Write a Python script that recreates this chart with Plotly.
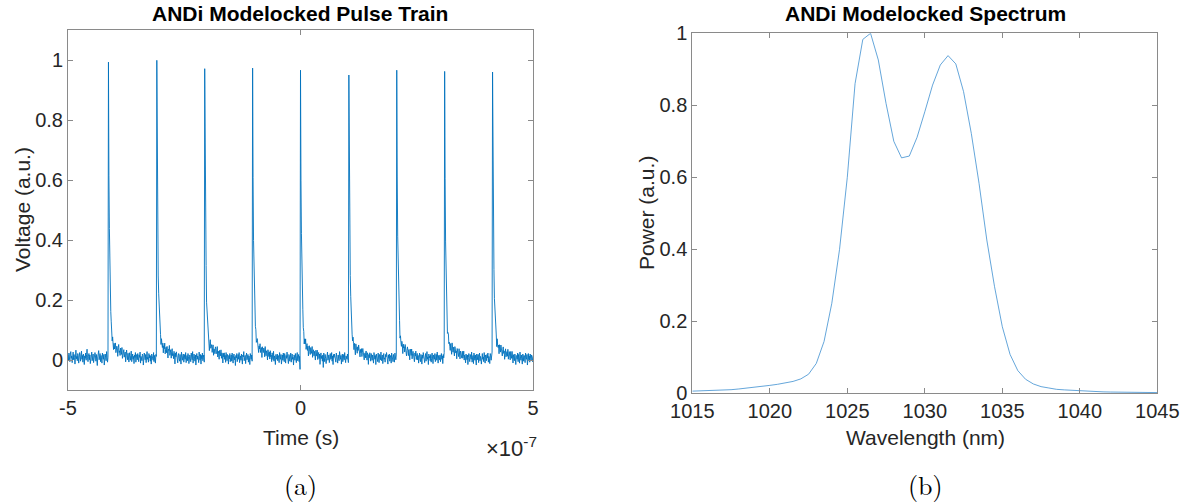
import numpy as np
import plotly.graph_objects as go

# ---------------- data: (a) pulse train, time in units of 1e-7 s ----------------
pulse_times_e7 = [-4.125, -3.093, -2.060, -1.028, 0.004, 1.037, 2.069, 3.101, 4.134]
pulse_peaks = [0.993, 0.999, 0.971, 0.973, 0.966, 0.950, 0.966, 0.962, 0.960]
# decay of one pulse after its peak, fraction of peak, one value per 1 ns sample
pulse_decay = [1.0, 0.62, 0.42, 0.30, 0.21, 0.15, 0.11, 0.085, 0.068, 0.056,
               0.048, 0.044, 0.041, 0.038, 0.036, 0.034, 0.032, 0.030, 0.028, 0.027,
               0.026, 0.025, 0.024, 0.023, 0.022, 0.021, 0.020, 0.019, 0.018, 0.017,
               0.016, 0.015, 0.014, 0.013, 0.012, 0.011, 0.010, 0.009, 0.008, 0.007,
               0.006, 0.005, 0.004, 0.003, 0.002, 0.001]
baseline_offset = 0.004
noise_unit = 0.0016  # a.u. per count of the list below
# baseline noise (counts), one value per 1 ns sample from -5e-7 to 5e-7 s
noise_counts = [
    8, -3, 12, 2, -6, 10, 15, 1, 6, -8, 4, 14, -2, 9, 3, -11, 7, 18, 0, 5, -4, 11, 6, -9, 2, 13, 8, -5, 3, 16, -1, 7, -7, 10, 4, -12, 6, 1, 12, -3, 9, 20, 2, -6, 5, 11, -2, 8, -10, 3,
    7, 14, -4, 2, 10, -8, 5, 0, 13, 6, -5, 9, 1, -14, 4, 8, 17, -2, 3, 11, -6, 7, 2, -9, 12, 4, -1, 9, -13, 5, 10, 2, -4, 15, 6, -7, 3, 8, -2, 12, 0, -10, 6, 9, 3, -5, 11, 1, -8, 7,
    -3, 6, 12, -7, 1, 9, 4, -11, 8, 15, -1, 3, -6, 10, 5, -2, 13, -9, 2, 7, 11, -4, 0, 8, -12, 6, 14, 3, -5, 9, 1, -8, 12, 4, -3, 7, 16, -6, 2, 10, -1, 5, -10, 8, 3, 13, -7, 4, 9, -2,
    11, 0, -6, 8, 3, 14, -9, 5, 2, -4, 10, 7, -13, 1, 12, 6, -2, 9, -8, 4, 15, -1, 3, -7, 11, 2, 8, -5, 6, -11, 10, 1, 4, -3, 13, -6, 7, 0, -9, 9, 5, 12, -4, 2, -14, 6, 10, -1, 3, 8,
    -5, 12, 4, -2, 9, -10, 6, 1, 14, -7, 3, 8, -3, 11, 0, -12, 7, 5, 16, -4, 2, 9, -8, 6, 13, -1, 4, -6, 10, 3, -15, 8, 1, 12, -2, 5, -9, 7, 11, 0, -5, 9, 3, -11, 14, 2, -3, 6, 10, -7,
    4, 9, -1, 13, -8, 2, 7, -4, 11, 5, -10, 3, 8, 0, -6, 12, 6, -2, 15, -9, 1, 10, 4, -5, 8, -13, 3, 11, -1, 6, 2, -8, 14, 5, -3, 9, -11, 7, 0, 12, -4, 3, 8, -7, 10, 1, -2, 13, -9, 5,
    7, -3, 10, 2, -12, 6, 15, -1, 4, 9, -6, 1, 12, -9, 5, 3, -4, 11, 8, -2, 0, 14, -7, 6, 2, -10, 9, 4, -1, 12, -5, 7, 3, -13, 8, 1, 10, -3, 6, -8, 13, 2, -4, 9, 5, -11, 7, 0, 11, -6,
    3, 8, -5, 12, 1, -9, 6, 10, -2, 4, -14, 7, 2, 11, -6, 5, 9, -1, 13, -8, 3, 6, -3, 10, 0, -11, 8, 4, 15, -4, 2, 7, -10, 5, 12, -2, 1, 9, -7, 6, 3, -12, 11, 4, -1, 8, -5, 14, 2, -8,
    6, 11, -3, 1, 9, -7, 4, 13, -2, 8, -10, 5, 0, 12, -5, 3, 7, -13, 10, 2, -1, 9, 6, -8, 14, 1, -4, 7, 3, -11, 11, 5, -2, 8, -6, 12, 0, 4, -9, 10, 2, -3, 15, -5, 6, 1, -12, 9, 3, -1,
    10, -4, 7, 2, -8, 13, 5, -1, 9, -11, 4, 8, -3, 12, 0, -6, 11, 3, -9, 7, 1, 14, -2, 5, -10, 9, 6, -5, 2, 12, -7, 4, 10, -1, 3, -13, 8, 6, -3, 11, 1, -8, 7, 13, -4, 2, 9, -6, 5, -22,
    4, -2, 9, -7, 3, 12, -1, 6, -10, 8, 2, 15, -5, 1, 10, -3, 7, -12, 5, 11, 0, -6, 9, 4, -2, 13, -9, 3, 8, -4, 6, 1, -11, 10, 5, -1, 12, -7, 2, 9, -3, 7, -14, 4, 11, 0, 6, -5, 8, -18,
    12, 3, -6, 9, 1, -10, 7, 4, 14, -3, 2, 8, -8, 5, 11, -1, 0, 13, -5, 6, -12, 9, 3, 10, -2, 4, -7, 12, 1, 6, -9, 8, 2, -4, 15, 5, -1, 7, -11, 3, 10, -6, 4, 9, -2, 13, 0, -8, 6, 2,
    -1, 10, 5, -8, 7, 2, 13, -4, 6, -11, 9, 1, -3, 12, 4, -7, 8, 3, -13, 11, 0, 6, -5, 9, 2, 14, -2, 5, -9, 7, 1, 10, -6, 3, 12, -1, 8, -10, 4, 6, -4, 11, 2, -7, 9, 5, -14, 7, 1, 12,
    2, -5, 11, 6, -3, 8, 0, -9, 13, 4, -1, 7, -12, 10, 3, 5, -6, 12, 1, -8, 9, 6, -2, 14, -4, 3, 8, -10, 5, 11, -1, 2, -7, 9, 4, 13, -3, 6, -11, 8, 1, 10, -5, 3, 7, -9, 12, 0, 4, -6,
    9, 1, -7, 12, 4, -2, 8, -10, 6, 3, 11, -5, 2, 14, -8, 7, 0, -3, 10, 5, -12, 9, 2, 6, -4, 13, -1, 8, -9, 3, 11, 4, -6, 7, 1, -13, 10, 5, -2, 12, -8, 3, 9, -1, 6, -11, 8, 2, 13, -4,
    5, 10, -3, 7, -9, 2, 12, 0, -6, 9, 4, -11, 8, 1, 13, -2, 6, -8, 3, 11, -5, 7, 15, -1, 4, -12, 10, 2, 6, -4, 9, -7, 1, 12, 3, -10, 8, 5, -1, 11, -6, 2, 9, -3, 14, 0, -9, 7, 4, -2,
    8, -6, 3, 11, -1, 6, -10, 9, 2, 13, -4, 5, -8, 10, 1, 7, -13, 4, 12, -2, 6, 0, -7, 9, 3, -11, 14, 5, -3, 8, 1, -9, 11, 6, -1, 4, -12, 10, 2, 7, -5, 12, 3, -8, 9, 0, 6, -4, 11, -3,
    1, 13, -5, 6, 2, -9, 10, 4, -2, 8, -12, 3, 11, 0, -6, 9, 5, -1, 14, -7, 2, 7, -10, 12, 4, -3, 8, 1, -13, 10, 6, -2, 9, -8, 3, 12, -4, 5, 0, -11, 7, 11, -1, 4, -6, 13, 2, -9, 8, 5,
    -4, 9, 2, 12, -7, 5, 1, -10, 11, 6, -3, 8, 14, -2, 3, -12, 7, 0, 10, -5, 4, 9, -8, 13, 2, -1, 6, -11, 9, 3, -4, 12, 1, 7, -9, 5, 11, -2, 4, -13, 8, 10, -6, 2, 6, -3, 12, -8, 3, 9,
    0, -7, 11, 4, -2, 13, 6, -10, 8, 1, -4, 10, 3, -12, 7, 5, -1, 12, -6, 9, 2, -9, 14, 4, -3, 8, 0, -11, 10, 6, -5, 7, 2, -8, 12, 3, -1, 9, -13, 5, 11, -2, 6, -7, 10, 1, -4, 8, 3, -6,
    5,
]

# ---------------- data: (b) spectrum ----------------
wavelength_nm = [1015.0, 1015.5, 1016.0, 1016.5, 1017.0, 1017.5, 1018.0, 1018.5, 1019.0, 1019.5,
                 1020.0, 1020.5, 1021.0, 1021.5, 1022.0, 1022.5, 1023.0, 1023.5, 1024.0, 1024.5,
                 1025.0, 1025.5, 1026.0, 1026.5, 1027.0, 1027.5, 1028.0, 1028.5, 1029.0, 1029.5,
                 1030.0, 1030.5, 1031.0, 1031.5, 1032.0, 1032.5, 1033.0, 1033.5, 1034.0, 1034.5,
                 1035.0, 1035.5, 1036.0, 1036.5, 1037.0, 1037.5, 1038.0, 1038.5, 1039.0, 1039.5,
                 1040.0, 1040.5, 1041.0, 1041.5, 1042.0, 1042.5, 1043.0, 1043.5, 1044.0, 1044.5,
                 1045.0]
power_au = [0.006, 0.0065, 0.007, 0.008, 0.009, 0.010, 0.012, 0.014, 0.016, 0.019,
            0.022, 0.025, 0.029, 0.033, 0.040, 0.053, 0.083, 0.144, 0.25, 0.40,
            0.60, 0.86, 0.983, 1.0, 0.926, 0.805, 0.70, 0.654, 0.659, 0.711,
            0.782, 0.856, 0.912, 0.938, 0.915, 0.838, 0.722, 0.583, 0.426, 0.296,
            0.185, 0.108, 0.063, 0.039, 0.026, 0.0185, 0.0148, 0.011, 0.0095, 0.008,
            0.0065, 0.005, 0.0045, 0.004, 0.0035, 0.003, 0.0027, 0.0025, 0.0022, 0.002,
            0.002]

# ---------------- build pulse-train series ----------------
t = np.linspace(-5, 5, len(noise_counts))
v = baseline_offset + np.array(noise_counts, dtype=float) * noise_unit
for tp, pk in zip(pulse_times_e7, pulse_peaks):
    i0 = int(np.argmin(np.abs(t - tp)))
    for k, f in enumerate(pulse_decay):
        if i0 + k < len(v):
            v[i0 + k] += (pk - baseline_offset) * f
    v[i0] = pk

W, H = 1182, 504
def px(x):
    return x / W
def py(y):
    return 1 - y / H

BLUE = "#0072BD"
TXT = "#262626"
AX = "#8a8a8a"
FONT = "Liberation Sans, Arial, Helvetica, sans-serif"

fig = go.Figure()
fig.add_trace(go.Scatter(x=t, y=v, mode="lines", line=dict(color=BLUE, width=0.9),
                         xaxis="x", yaxis="y", showlegend=False, hoverinfo="skip"))
fig.add_trace(go.Scatter(x=wavelength_nm, y=power_au, mode="lines",
                         line=dict(color="#3d8fd1", width=0.8),
                         xaxis="x2", yaxis="y2", showlegend=False, hoverinfo="skip"))

axis_common = dict(showline=True, linecolor=AX, linewidth=1, mirror="allticks",
                   ticks="inside", ticklen=5, tickcolor=AX, tickwidth=1,
                   showgrid=False, zeroline=False, automargin=False,
                   tickfont=dict(family=FONT, size=20, color=TXT))

fig.update_layout(
    width=W, height=H, margin=dict(l=0, r=0, t=0, b=0),
    paper_bgcolor="white", plot_bgcolor="white",
    xaxis=dict(domain=[px(68), px(533)], range=[-5, 5], tickvals=[-5, 0, 5],
               ticktext=["-5", "0", "5"], anchor="y", **axis_common),
    yaxis=dict(domain=[py(390), py(30)], range=[-0.1, 1.1],
               tickvals=[0, 0.2, 0.4, 0.6, 0.8, 1],
               ticktext=["0", "0.2", "0.4", "0.6", "0.8", "1"], anchor="x", **axis_common),
    xaxis2=dict(domain=[px(692.3), px(1157.3)], range=[1015, 1045],
                tickvals=[1015, 1020, 1025, 1030, 1035, 1040, 1045], anchor="y2", **axis_common),
    yaxis2=dict(domain=[py(393.3), py(33.3)], range=[0, 1],
                tickvals=[0, 0.2, 0.4, 0.6, 0.8, 1],
                ticktext=["0", "0.2", "0.4", "0.6", "0.8", "1"], anchor="x2", **axis_common),
)

def label(text, x, y, size, bold=False, angle=0, family=FONT, color=TXT):
    fig.add_annotation(text=f"<b>{text}</b>" if bold else text,
                       x=px(x), y=py(y), xref="paper", yref="paper",
                       xanchor="center", yanchor="middle", showarrow=False,
                       textangle=angle, font=dict(family=family, size=size, color=color))

label("ANDi Modelocked Pulse Train", 300.5, 13, 21, bold=True, color="black")
label("ANDi Modelocked Spectrum", 925, 13, 21, bold=True, color="black")
label("Time (s)", 301, 437, 21)
label("Wavelength (nm)", 925, 437, 21)
label("×10<sup>-7</sup>", 511, 447, 22)
label("Voltage (a.u.)", 22, 210, 21, angle=-90)
label("Power (a.u.)", 646, 213, 21, angle=-90)
SERIF = "Latin Modern Roman, CMU Serif, Liberation Serif, DejaVu Serif, serif"
label("(a)", 300, 484, 26, family=SERIF, color="black")
label("(b)", 925, 484, 26, family=SERIF, color="black")

fig.write_html("out.html")
